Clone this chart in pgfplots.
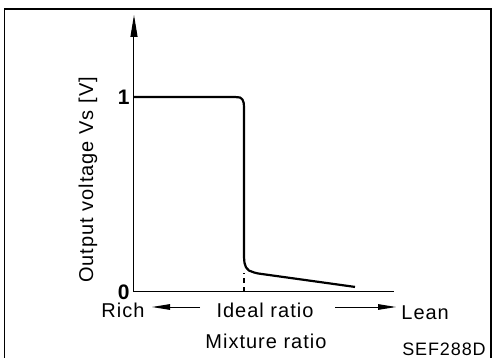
\documentclass[border=0pt]{standalone}
\usepackage{fontspec}
\setmainfont{Liberation Sans}[LetterSpace=5]
\usepackage{pgfplots}
\pgfplotsset{compat=1.18}
\usetikzlibrary{arrows.meta}
\begin{document}
\begin{tikzpicture}[x=1pt,y=1pt,font=\fontsize{10}{12}\selectfont]
\clip (-67,-33) rectangle (179,146);
\useasboundingbox (-67,-33) rectangle (179,146);
\draw[line width=0.7pt] (-64.75,-40) -- (-64.75,141.5) -- (178.5,141.5) -- (178.5,-40);
\begin{axis}[
  at={(0,0)}, anchor=south west,
  scale only axis, width=130pt, height=138.5pt,
  xmin=0, xmax=10, ymin=0, ymax=1.42,
  axis lines=left,
  x axis line style={-},
  y axis line style={-{Triangle[length=11pt,width=3.5pt]}},
  axis line style={line width=0.5pt},
  xtick=\empty,
  ytick={0,1},
  yticklabels={\bfseries 0,\bfseries 1},
  major tick length=0pt,
  yticklabel style={font=\fontsize{10.5}{12}\selectfont, inner sep=0pt, xshift=-2pt},
  /pgf/number format/assume math mode=true,
  clip=false,
]
\addplot[black, line width=1.1pt, line join=round, no marks] coordinates {
  (0,1) (3.85,1) (4.08,0.997) (4.17,0.987) (4.22,0.969) (4.23,0.949)
  (4.23,0.179) (4.25,0.149) (4.31,0.126) (4.42,0.110) (4.62,0.100) (4.77,0.095)
  (8.5,0.026)
};
\addplot[black, line width=0.8pt, dashed, dash pattern=on 2.5pt off 2pt, no marks] coordinates {
  (4.23,0) (4.23,0.097)
};
\end{axis}
\node[inner sep=0pt] at (-5.5,-9) {Rich};
\node[inner sep=0pt] at (65.5,-9) {Ideal ratio};
\node[anchor=west, inner sep=0pt] at (133.5,-10.5) {Lean};
\node[inner sep=0pt] at (66,-24.5) {Mixture ratio};
\node[inner sep=0pt, font=\fontsize{9}{10}\selectfont] at (155,-28.5) {SEF288D};
\node[rotate=90] at (-23,56) {Output voltage Vs [V]};
\draw[line width=0.5pt, -{Triangle[length=9pt,width=2.8pt]}] (33,-7.5) -- (9,-7.5);
\draw[line width=0.5pt, -{Triangle[length=9pt,width=2.8pt]}] (100.5,-7.5) -- (131,-7.5);
\end{tikzpicture}
\end{document}
